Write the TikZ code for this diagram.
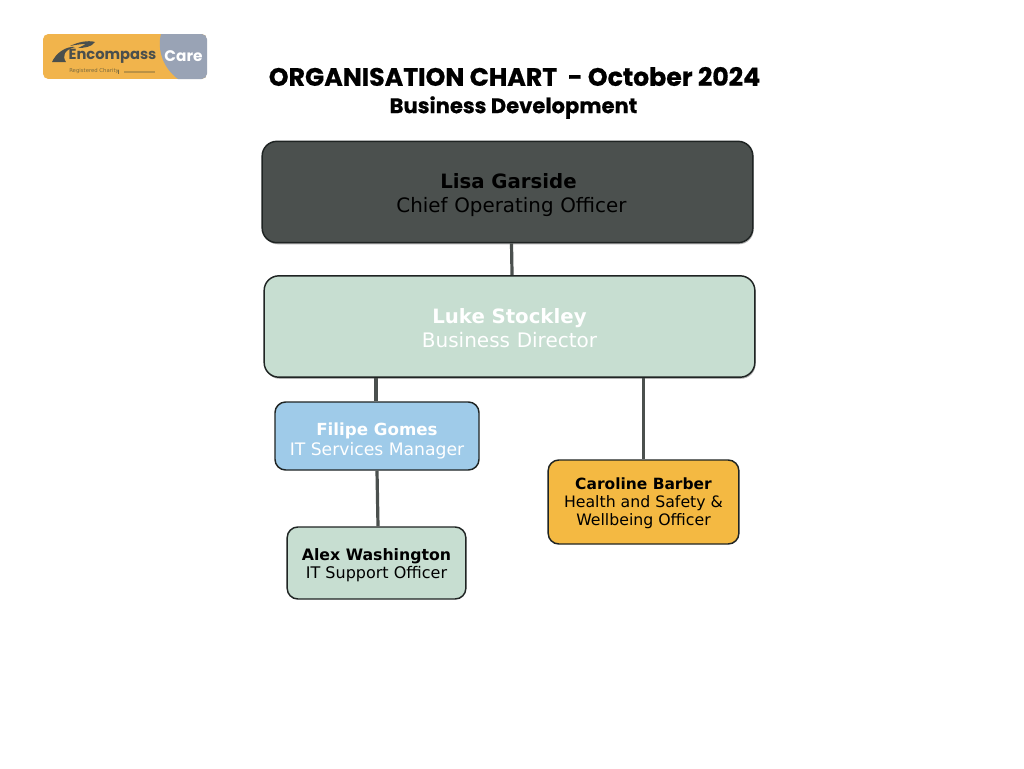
\documentclass[tikz,border=0pt]{standalone}
\usepackage{fontspec}
\setmainfont{DejaVu Sans}
\newfontfamily\titlefont[BoldFeatures={FakeBold=0.6}]{Poppins}
\newfontfamily\logofont{Poppins}
\usetikzlibrary{shadows,calc}
\definecolor{darkbox}{HTML}{4B504E}
\definecolor{mint}{HTML}{C7DED1}
\definecolor{skyb}{HTML}{9FCBE9}
\definecolor{amber}{HTML}{F4B942}
\definecolor{logoamber}{HTML}{F1B44C}
\definecolor{logogrey}{HTML}{99A3B5}
\definecolor{logodark}{HTML}{4A4F4D}
\definecolor{logosubc}{HTML}{7A6A3E}
\definecolor{edgec}{HTML}{1F2423}
\tikzset{
 x=0.75pt,y=-0.75pt,
 orgbox/.style={draw=edgec,line width=1.1pt,rounded corners=#1,align=center,inner sep=0pt},
 orgbox/.default=9pt,
 bigbox/.style={orgbox=11pt,font=\fontsize{15}{18}\selectfont,minimum height=76pt,text width=368pt,
   drop shadow={shadow xshift=0.6pt,shadow yshift=-1.2pt,opacity=0.3,fill=black}},
 smallbox/.style={orgbox=8pt},
 link/.style={draw=darkbox,line width=2.4pt},
 titletxt/.style={font=\titlefont\bfseries\fontsize{#1}{#1}\selectfont,inner sep=0pt,text=black},
}
\begin{document}
\begin{tikzpicture}
\useasboundingbox (0,0) rectangle (1024,768);
\fill[white] (0,0) rectangle (1024,768);
% logo
\begin{scope}
 \clip[rounded corners=4pt] (43,34) rectangle (207,79);
 \fill[logoamber] (43,34) rectangle (207,79);
 \fill[logogrey] (161,34) .. controls (157,50) and (163,68) .. (178,79) -- (207,79) -- (207,34) -- cycle;
\end{scope}
\fill[logodark] (52,62) .. controls (56,53) and (66,46) .. (75,47) .. controls (64,50) and (62,56) .. (66,62) -- cycle;
\fill[logodark] (70,46) .. controls (78,42) and (88,40) .. (95,42) .. controls (92,47) and (84,48) .. (78,48) .. controls (82,46) and (84,45) .. (86,44) .. controls (80,44) and (75,45) .. (70,46) -- cycle;
\node[name=logotext,font=\logofont\bfseries\fontsize{11}{12}\selectfont,text=logodark,inner sep=0pt] at (112.5,56) {Encompass};
\node[name=logocare,font=\logofont\bfseries\fontsize{11.5}{12}\selectfont,text=white,inner sep=0pt] at (183.5,56) {Care};
\node[name=logosub,font=\fontsize{4}{5}\selectfont,text=logosubc,inner sep=0pt,anchor=west] at (69,71.5) {Registered Charity};
% the rest of the strapline is too blurred to read: drawn as a bar and a faint smear
\fill[logosubc] (118,69.5) rectangle (118.7,73.5);
\fill[logosubc,opacity=0.45] (124,70.5) rectangle (155,72.5);
% title
\node[name=title1,titletxt=18.9] at (514.5,76.5) {ORGANISATION CHART \ - October 2024};
\node[name=title2,titletxt=15.8] at (513.5,107.5) {Business Development};
% boxes
\node[name=lisa,bigbox,fill=darkbox,text=black] at (507.5,192) {\rule{0pt}{16.5pt}\hspace{1.5pt}\textbf{\fontsize{14.8}{18}\selectfont Lisa Garside}\\\hspace{6pt}{\fontsize{14.9}{18}\selectfont Chief Operating Officer}};
\node[name=luke,bigbox,fill=mint,text=white] at (509.5,326.5) {\rule{0pt}{13pt}\textbf{\fontsize{14.8}{18}\selectfont Luke Stockley}\hspace{6.75pt}\\Business Director};
\node[name=filipe,smallbox,fill=skyb,text=white,minimum width=153pt,minimum height=51pt,font=\fontsize{12.9}{15.2}\selectfont] at (377,436) {\rule{0pt}{17pt}\textbf{\fontsize{12.5}{15.2}\selectfont Filipe Gomes}\\IT Services Manager};
\node[name=caroline,smallbox,fill=amber,text=black,minimum width=143pt,minimum height=63pt,font=\fontsize{11.8}{13.4}\selectfont] at (643.5,502) {\rule{0pt}{11pt}\textbf{\fontsize{11.6}{13.4}\selectfont Caroline Barber}\\Health and Safety \&\\Wellbeing Officer};
\node[name=alex,smallbox,fill=mint,text=black,minimum width=134pt,minimum height=54pt,font=\fontsize{12}{13.6}\selectfont] at (376.5,563) {\rule{0pt}{12.5pt}\textbf{\fontsize{11.8}{13.6}\selectfont Alex Washington}\\IT Support Officer};
% connectors
\coordinate (lisaout) at ([xshift=3pt]lisa.south);
\coordinate (lukein) at ([xshift=1.9pt]luke.north);
\coordinate (lukeleft) at ($(luke.south)+(-133.5,0)$);
\coordinate (filipein) at ($(filipe.north)+(-1,0)$);
\coordinate (lukeright) at ($(luke.south)+(134,0)$);
\coordinate (filipeout) at (filipe.south);
\coordinate (alexin) at ($(alex.north)+(1.5,0)$);
\draw[link] (lisaout) -- (lukein);
\draw[link] (lukeleft) -- (filipein);
\draw[link] (lukeright) -- (caroline.north);
\draw[link] (filipeout) -- (alexin);
\end{tikzpicture}
\end{document}
